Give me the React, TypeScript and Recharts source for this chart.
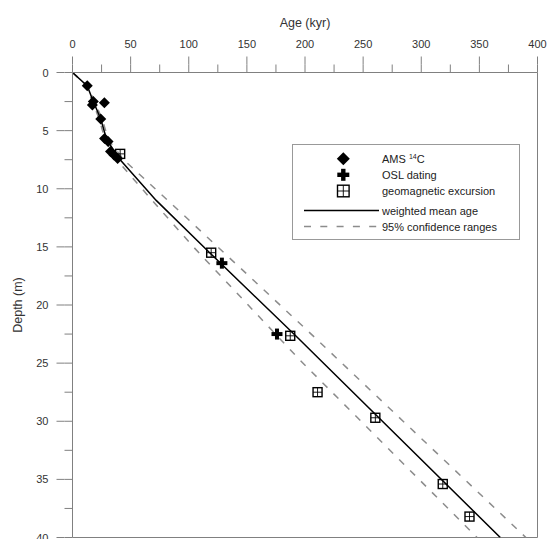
import React from 'react';
import { ComposedChart, Line, Scatter, XAxis, YAxis, ReferenceLine, Label } from 'recharts';

// AMS 14C dates (age kyr / depth m)
const amsAge = [12.7, 17.9, 17.1, 27.4, 24.3, 27.6, 30.6, 32.7, 35.7, 38.8];
const amsDepth = [1.15, 2.5, 2.8, 2.6, 4.0, 5.67, 5.93, 6.8, 7.1, 7.4];

// OSL dating
const oslAge = [128.5, 175.9];
const oslDepth = [16.4, 22.5];

// geomagnetic excursions
const geoAge = [41, 119.3, 187.3, 210.8, 260.5, 318.5, 341.5];
const geoDepth = [7.0, 15.5, 22.65, 27.5, 29.7, 35.4, 38.2];

// weighted mean age model
const meanAge = [0, 12.7, 17.9, 24.3, 29.5, 41, 72, 118, 192, 368];
const meanDepth = [0, 1.15, 2.5, 4.0, 5.8, 7.5, 11, 15.5, 22.65, 40];

// 95% confidence ranges
const lowerAge = [0, 12, 17, 23, 28, 38, 68.5, 104, 196, 348];
const lowerDepth = [0, 1.15, 2.5, 4.0, 5.8, 7.5, 11, 15, 24.77, 40];
const upperAge = [0, 13.5, 19, 25.5, 31, 44, 82, 201.7, 390];
const upperDepth = [0, 1.15, 2.5, 4.0, 5.8, 7.5, 11, 22.16, 40];

const ageTicks = [0, 25, 50, 75, 100, 125, 150, 175, 200, 225, 250, 275, 300, 325, 350, 375, 400];
const depthTicks = [0, 2.5, 5, 7.5, 10, 12.5, 15, 17.5, 20, 22.5, 25, 27.5, 30, 32.5, 35, 37.5, 40];

const zip = (ages: number[], depths: number[]) => ages.map((a, i) => ({ age: a, depth: depths[i] }));

const ams = zip(amsAge, amsDepth);
const osl = zip(oslAge, oslDepth);
const geo = zip(geoAge, geoDepth);
const mean = zip(meanAge, meanDepth);
const lower = zip(lowerAge, lowerDepth);
const upper = zip(upperAge, upperDepth);

const AXIS = '#808080';
const TEXT = '#333';
const DASH = '#8c8c8c';
const FONT = '"Liberation Sans", Arial, sans-serif';

const Diamond = ({ cx, cy, r = 5.5 }: any) => (
  <polygon points={`${cx},${cy - r} ${cx + r},${cy} ${cx},${cy + r} ${cx - r},${cy}`} fill="#000" />
);

const Plus = ({ cx, cy, s = 5.5, w = 2 }: any) => (
  <g fill="#000">
    <rect x={cx - s} y={cy - w} width={s * 2} height={w * 2} />
    <rect x={cx - w} y={cy - s} width={w * 2} height={s * 2} />
  </g>
);

const GridSquare = ({ cx, cy, s = 4.5 }: any) => (
  <g>
    <rect x={cx - s} y={cy - s} width={s * 2} height={s * 2} fill="none" stroke="#000" strokeWidth={1.4} />
    <line x1={cx} y1={cy - s} x2={cx} y2={cy + s} stroke="#000" strokeWidth={0.9} />
    <line x1={cx - s} y1={cy} x2={cx + s} y2={cy} stroke="#000" strokeWidth={0.9} />
  </g>
);

const AgeTick = ({ x, y, payload }: any) => {
  if (payload.value % 50 !== 0) return null;
  return (
    <g>
      <line x1={x} y1={y} x2={x} y2={y - 8} stroke={AXIS} />
      <text x={x} y={y - 17} textAnchor="middle" fill={TEXT} fontSize={11} fontFamily={FONT}>
        {payload.value}
      </text>
    </g>
  );
};

const DepthTick = ({ x, y, payload }: any) => {
  if (payload.value % 5 !== 0) return null;
  return (
    <g>
      <line x1={x} y1={y} x2={x - 8} y2={y} stroke={AXIS} />
      <text x={x - 16} y={y + 4} textAnchor="end" fill={TEXT} fontSize={11} fontFamily={FONT}>
        {payload.value}
      </text>
    </g>
  );
};

const AgeTitle = ({ viewBox }: any) => {
  const vb = viewBox || { x: 72.5, y: 32.5, width: 465 };
  return (
    <text x={vb.x + vb.width / 2} y={vb.y - 6} textAnchor="middle" fill={TEXT} fontSize={12.5} fontFamily={FONT}>
      Age (kyr)
    </text>
  );
};

const DepthTitle = ({ viewBox }: any) => {
  const vb = viewBox || { x: 22.5, y: 72.5, height: 465 };
  const x = vb.x - 1;
  const y = vb.y + vb.height / 2;
  return (
    <text x={x} y={y} transform={`rotate(-90, ${x}, ${y})`} textAnchor="middle" fill={TEXT} fontSize={12.5} fontFamily={FONT}>
      Depth (m)
    </text>
  );
};

function LegendBox() {
  const rows = [158.3, 174.3, 190.5, 210, 226];
  const tx = 90;
  return (
    <svg
      width={229}
      height={97}
      style={{ position: 'absolute', left: 292, top: 143.5, fontFamily: FONT }}
    >
      <rect x={0.5} y={0.5} width={227} height={95} fill="#fff" stroke="#999" />
      <Diamond cx={51.3} cy={rows[0] - 143.5} r={6.5} />
      <Plus cx={51.3} cy={rows[1] - 143.5} s={6} w={2.2} />
      <GridSquare cx={51.3} cy={rows[2] - 143.5} s={5.8} />
      <line x1={12} x2={87} y1={rows[3] - 143.5} y2={rows[3] - 143.5} stroke="#000" strokeWidth={1.5} />
      <line x1={12} x2={87} y1={rows[4] - 143.5} y2={rows[4] - 143.5} stroke={DASH} strokeWidth={1.5} strokeDasharray="7 9.3" />
      <text x={tx} y={rows[0] - 143.5 + 4} fontSize={11} fill="#222">
        AMS <tspan fontSize={7} dy={-4}>14</tspan>
        <tspan dy={4}>C</tspan>
      </text>
      <text x={tx} y={rows[1] - 143.5 + 4} fontSize={11} fill="#222">OSL dating</text>
      <text x={tx} y={rows[2] - 143.5 + 4} fontSize={11} fill="#222">geomagnetic excursion</text>
      <text x={tx} y={rows[3] - 143.5 + 4} fontSize={11} fill="#222">weighted mean age</text>
      <text x={tx} y={rows[4] - 143.5 + 4} fontSize={11} fill="#222">95% confidence ranges</text>
    </svg>
  );
}

export default function App() {
  return (
    <div style={{ position: 'absolute', left: 0, top: 0, width: 547, height: 539, background: '#fff' }}>
      <ComposedChart
        width={547}
        height={539}
        margin={{ top: 32.5, right: 9.5, bottom: 1.5, left: 22.5 }}
        style={{ fontFamily: FONT }}
      >
        <XAxis
          dataKey="age"
          type="number"
          orientation="top"
          domain={[0, 400]}
          allowDataOverflow
          ticks={ageTicks}
          interval={0}
          height={40}
          stroke={AXIS}
          tickSize={8}
          tickMargin={0}
          tick={<AgeTick />}
        >
          <Label content={<AgeTitle />} />
        </XAxis>
        <YAxis
          dataKey="depth"
          type="number"
          domain={[0, 40]}
          reversed
          allowDataOverflow
          ticks={depthTicks}
          interval={0}
          width={50}
          stroke={AXIS}
          tickSize={8}
          tickMargin={0}
          tick={<DepthTick />}
        >
          <Label content={<DepthTitle />} />
        </YAxis>
        <ReferenceLine x={400} stroke={AXIS} />
        <ReferenceLine y={40} stroke={AXIS} />
        <Line data={lower} dataKey="depth" stroke={DASH} strokeWidth={1.5} strokeDasharray="7 8.5" dot={false} isAnimationActive={false} />
        <Line data={upper} dataKey="depth" stroke={DASH} strokeWidth={1.5} strokeDasharray="7 8.5" dot={false} isAnimationActive={false} />
        <Line data={mean} dataKey="depth" stroke="#000" strokeWidth={1.5} dot={false} isAnimationActive={false} />
        <Scatter data={ams} shape={<Diamond />} isAnimationActive={false} />
        <Scatter data={osl} shape={<Plus />} isAnimationActive={false} />
        <Scatter data={geo} shape={<GridSquare />} isAnimationActive={false} />
      </ComposedChart>
      <LegendBox />
    </div>
  );
}
